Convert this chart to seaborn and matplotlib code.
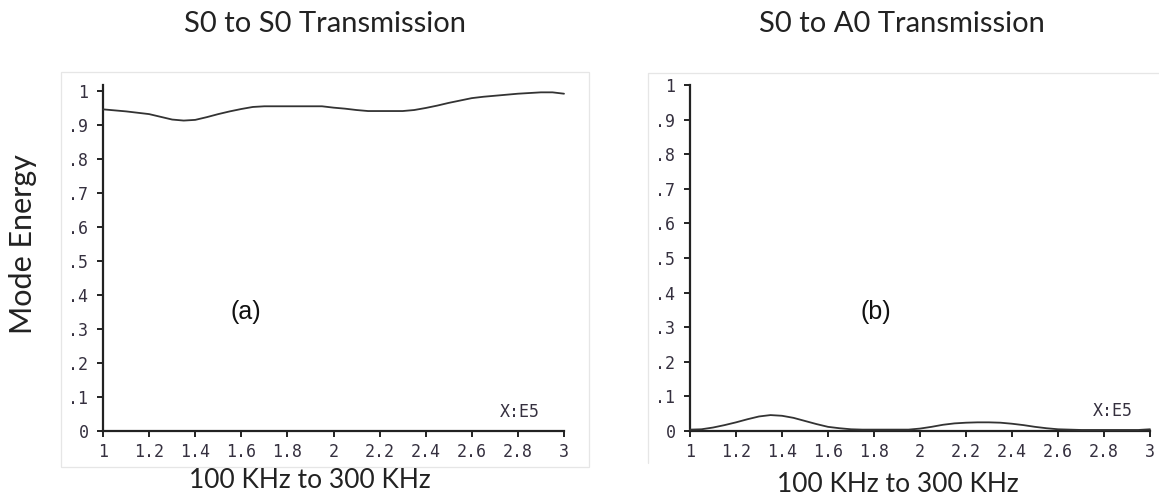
import numpy as np
import pandas as pd
import seaborn as sns
import matplotlib
matplotlib.use("Agg")
import matplotlib.pyplot as plt
from matplotlib.lines import Line2D
from matplotlib.patches import Rectangle

# ---------------- data ----------------
freq = [1.00, 1.05, 1.10, 1.15, 1.20, 1.25, 1.30, 1.35, 1.40, 1.45,
        1.50, 1.55, 1.60, 1.65, 1.70, 1.75, 1.80, 1.85, 1.90, 1.95,
        2.00, 2.05, 2.10, 2.15, 2.20, 2.25, 2.30, 2.35, 2.40, 2.45,
        2.50, 2.55, 2.60, 2.65, 2.70, 2.75, 2.80, 2.85, 2.90, 2.95, 3.00]
s0_to_s0 = [0.946, 0.943, 0.940, 0.936, 0.932, 0.924, 0.916, 0.913, 0.915, 0.923,
            0.932, 0.940, 0.947, 0.953, 0.955, 0.955, 0.955, 0.955, 0.955, 0.955,
            0.951, 0.948, 0.944, 0.941, 0.941, 0.941, 0.941, 0.944, 0.950, 0.957,
            0.965, 0.972, 0.979, 0.983, 0.986, 0.989, 0.992, 0.994, 0.996, 0.996, 0.992]
s0_to_a0 = [0.004, 0.005, 0.010, 0.017, 0.025, 0.034, 0.042, 0.046, 0.044, 0.038,
            0.029, 0.020, 0.012, 0.008, 0.005, 0.004, 0.004, 0.004, 0.004, 0.004,
            0.007, 0.012, 0.018, 0.022, 0.024, 0.025, 0.025, 0.024, 0.021, 0.017,
            0.012, 0.008, 0.005, 0.004, 0.003, 0.003, 0.003, 0.003, 0.003, 0.003, 0.005]
x_ticks = [1, 1.2, 1.4, 1.6, 1.8, 2, 2.2, 2.4, 2.6, 2.8, 3]
x_tick_labels = ["1", "1.2", "1.4", "1.6", "1.8", "2", "2.2", "2.4", "2.6", "2.8", "3"]
y_ticks = [0, 0.1, 0.2, 0.3, 0.4, 0.5, 0.6, 0.7, 0.8, 0.9, 1.0]
y_tick_labels = ["0", ".1", ".2", ".3", ".4", ".5", ".6", ".7", ".8", ".9", "1"]
titles = ["S0 to S0 Transmission", "S0 to A0 Transmission"]
panel_tags = ["(a)", "(b)"]
x_label = "100 KHz to 300 KHz"
y_label = "Mode Energy"
unit_note = "X:E5"

df_a = pd.DataFrame({"freq": freq, "energy": s0_to_s0})
df_b = pd.DataFrame({"freq": freq, "energy": s0_to_a0})

# ---------------- figure ----------------
sns.set_theme(style="white")
plt.rcParams["font.family"] = ["Lato", "DejaVu Sans"]

W, H = 1159, 500
fig = plt.figure(figsize=(W / 100, H / 100), dpi=100)
fig.patch.set_facecolor("white")

def px(x0, y0, x1, y1):
    return [x0 / W, 1 - y1 / H, (x1 - x0) / W, (y1 - y0) / H]

# light frames around panels
fig.add_artist(Rectangle((61 / W, 1 - 467 / H), (589 - 61) / W, (467 - 72) / H,
                         transform=fig.transFigure, fill=False, edgecolor="#e6e6e6", lw=0.9))
fig.add_artist(Line2D([648 / W, 648 / W], [1 - 463 / H, 1 - 73 / H],
                      transform=fig.transFigure, color="#e6e6e6", lw=0.9))
fig.add_artist(Line2D([648 / W, 1.0], [1 - 73 / H, 1 - 73 / H],
                      transform=fig.transFigure, color="#e6e6e6", lw=0.9))

ax_a = fig.add_axes(px(103, 85, 564, 431))
ax_b = fig.add_axes(px(690, 85, 1150, 431))

tick_font = dict(family="DejaVu Sans Mono", size=12, color="#35303f")

for ax, df, ytop, tag, tagpos, notepos in [
    (ax_a, df_a, 1.0176, panel_tags[0], (1.62, 0.35), (2.81, 0.056)),
    (ax_b, df_b, 1.0, panel_tags[1], (1.806, 0.343), (2.84, 0.058)),
]:
    sns.lineplot(data=df, x="freq", y="energy", ax=ax, color="#333333", lw=1.3,
                 clip_on=False, zorder=3)
    ax.set_xlim(1, 3)
    ax.set_ylim(0, ytop)
    ax.set_facecolor("none")
    for s in ["top", "right"]:
        ax.spines[s].set_visible(False)
    for s in ["left", "bottom"]:
        ax.spines[s].set_color("#222222")
        ax.spines[s].set_linewidth(1.6)
    ax.set_xticks(x_ticks)
    ax.set_xticklabels(x_tick_labels, fontdict=tick_font)
    ax.set_yticks(y_ticks)
    ax.set_yticklabels(y_tick_labels, fontdict=tick_font)
    ax.tick_params(axis="both", which="major", direction="out", length=4.5, width=1.4,
                   color="#222222", bottom=True, left=True)
    ax.tick_params(axis="x", pad=4)
    ax.tick_params(axis="y", pad=6)
    ax.set_xlabel("")
    ax.set_ylabel("")
    ax.grid(False)
    ax.text(tagpos[0], tagpos[1], tag, ha="center", va="center", fontsize=18,
            family="Liberation Sans", color="#111111")
    ax.text(notepos[0], notepos[1], unit_note, ha="center", va="center",
            family="DejaVu Sans Mono", size=12, color="#35303f")

# titles and labels
fig.text(325 / W, 1 - 24 / H, titles[0], ha="center", va="center", fontsize=21, color="#222222")
fig.text(902 / W, 1 - 24 / H, titles[1], ha="center", va="center", fontsize=21, color="#222222")
fig.text(23 / W, 1 - 244 / H, y_label, ha="center", va="center", rotation=90, fontsize=22,
         color="#222222")
fig.text(310 / W, 1 - 480 / H, x_label, ha="center", va="center", fontsize=19, color="#222222")
fig.text(898 / W, 1 - 485 / H, x_label, ha="center", va="center", fontsize=19, color="#222222")

fig.savefig("out.png", dpi=100, facecolor="white")
